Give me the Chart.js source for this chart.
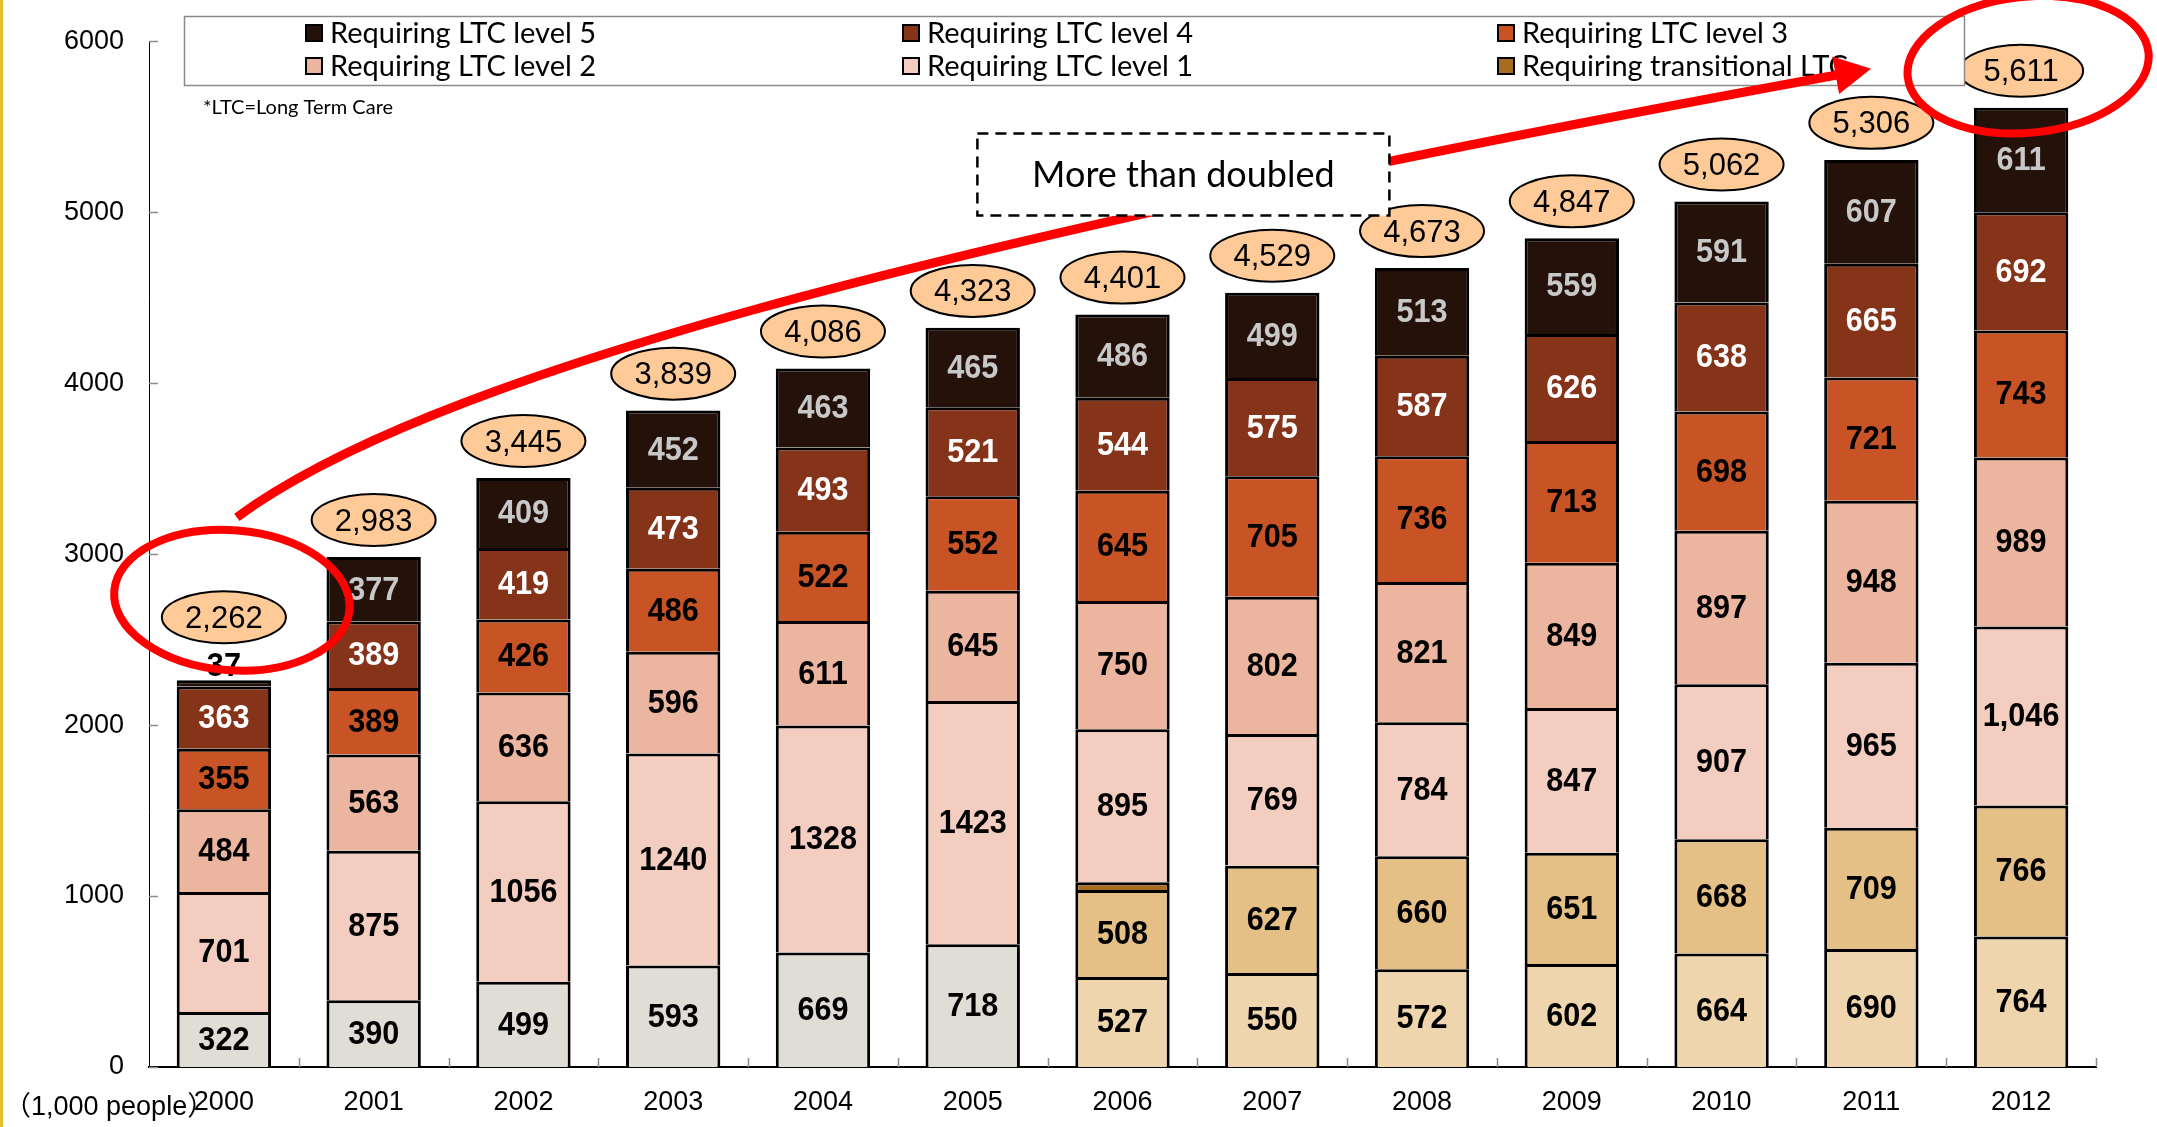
<!DOCTYPE html>
<html>
<head>
<meta charset="utf-8">
<title>Persons requiring long-term care</title>
<script src="https://cdn.jsdelivr.net/npm/chart.js@4.4.1/dist/chart.umd.min.js"></script>
<style>
  html, body { margin: 0; padding: 0; background: #fff; }
  #wrap { width: 2157px; height: 1127px; position: relative; }
</style>
</head>
<body>
<div id="wrap"><canvas id="ltcChart" width="2157" height="1127"></canvas></div>
<script>
// years on the x axis
const years = ["2000", "2001", "2002", "2003", "2004", "2005", "2006",
  "2007", "2008", "2009", "2010", "2011", "2012"];

// persons by care level (1,000 people), bottom of the stack first
const support = [322, 390, 499, 593, 669, 718, null, null, null, null, null, null, null];
const support1 = [null, null, null, null, null, null, 527, 550, 572, 602, 664, 690, 764];
const support2 = [null, null, null, null, null, null, 508, 627, 660, 651, 668, 709, 766];
const transitional = [null, null, null, null, null, null, 46, 2, null, null, null, null, null];
const level1 = [701, 875, 1056, 1240, 1328, 1423, 895, 769, 784, 847, 907, 965, 1046];
const level2 = [484, 563, 636, 596, 611, 645, 750, 802, 821, 849, 897, 948, 989];
const level3 = [355, 389, 426, 486, 522, 552, 645, 705, 736, 713, 698, 721, 743];
const level4 = [363, 389, 419, 473, 493, 521, 544, 575, 587, 626, 638, 665, 692];
const level5 = [37, 377, 409, 452, 463, 465, 486, 499, 513, 559, 591, 607, 611];

// totals written in the bubbles above each bar
const totals = [2262, 2983, 3445, 3839, 4086, 4323, 4401, 4529, 4673, 4847, 5062, 5306, 5611];

const yMax = 6000;
const yStep = 1000;

const FONT = '"Liberation Sans", Arial, sans-serif';
const NOTE_FONT = 'Lato, "Open Sans", sans-serif';

document.addEventListener("DOMContentLoaded", function () {
  const ctx = document.getElementById("ltcChart").getContext("2d");

  // one stacked series; textColor null means its segments get no numbers
  function ds(label, data, color, textColor) {
    return {
      label: label,
      data: data,
      backgroundColor: color,
      borderColor: "#000",
      borderWidth: 3,
      borderSkipped: "start",
      textColor: textColor,
    };
  }

  const datasets = [
    ds("Requiring support", support, "#e0ddd6", "#000"),
    ds("Requiring support 1", support1, "#efd5ad", "#000"),
    ds("Requiring support 2", support2, "#e5c086", "#000"),
    ds("Requiring transitional LTC", transitional, "#a66d22", null),
    ds("Requiring LTC level 1", level1, "#f3cdc0", "#000"),
    ds("Requiring LTC level 2", level2, "#ecb59f", "#000"),
    ds("Requiring LTC level 3", level3, "#c85426", "#000"),
    ds("Requiring LTC level 4", level4, "#85341a", "#fff"),
    ds("Requiring LTC level 5", level5, "#24120a", "#c8c8c8"),
  ];

  // legend: three columns, two rows
  const legendOrder = [
    ["Requiring LTC level 5", "Requiring LTC level 4", "Requiring LTC level 3"],
    ["Requiring LTC level 2", "Requiring LTC level 1", "Requiring transitional LTC"],
  ];

  function fmt(v, i) {
    // the last year is printed with thousands separators
    return years[i] === "2012" ? v.toLocaleString("en-US") : String(v);
  }

  // bubble centre above a bar; pushed up when a tiny top segment is labelled above the bar
  function bubbleCenter(chart, i) {
    const xs = chart.scales.x, ys = chart.scales.y;
    const top = ys.getPixelForValue(totals[i]);
    const lifted = chart._smallTop && chart._smallTop[i];
    return { x: xs.getPixelForValue(i), y: top - (lifted ? 63 : 37) };
  }

  const decorations = {
    id: "decorations",

    // inward tick marks on both axes
    beforeDatasetsDraw(chart) {
      const c = chart.ctx, area = chart.chartArea;
      const xs = chart.scales.x, ys = chart.scales.y;
      c.save();
      c.strokeStyle = "#8c8c8c";
      c.lineWidth = 1.5;
      c.beginPath();
      for (let v = 0; v <= yMax; v += yStep) {
        const py = Math.round(ys.getPixelForValue(v)) + 0.5;
        c.moveTo(area.left, py);
        c.lineTo(area.left + 9, py);
      }
      const half = (xs.getPixelForValue(1) - xs.getPixelForValue(0)) / 2;
      for (let i = 0; i < years.length; i++) {
        const px = Math.round(xs.getPixelForValue(i) + half) + 0.5;
        c.moveTo(px, area.bottom);
        c.lineTo(px, area.bottom - 9);
      }
      c.stroke();
      c.restore();
    },

    // values inside the segments and the total bubbles
    afterDatasetsDraw(chart) {
      const c = chart.ctx;
      chart._smallTop = {};
      c.save();
      c.textAlign = "center";
      c.textBaseline = "middle";
      chart.data.datasets.forEach(function (set, di) {
        if (!set.textColor) return;
        const meta = chart.getDatasetMeta(di);
        meta.data.forEach(function (bar, i) {
          const v = set.data[i];
          if (v == null) return;
          const p = bar.getProps(["x", "y", "base"], true);
          const h = Math.abs(p.base - p.y);
          let cy = (p.y + p.base) / 2 + 1;
          let color = set.textColor;
          if (h < 20) {
            // too thin to hold its number: print it just above the bar
            cy = p.y - 14;
            color = "#000";
            chart._smallTop[i] = true;
          }
          c.save();
          c.translate(p.x, cy);
          c.scale(0.9, 1);
          c.font = "bold 34px " + FONT;
          c.fillStyle = color;
          c.fillText(fmt(v, i), 0, 0);
          c.restore();
        });
      });

      totals.forEach(function (t, i) {
        const b = bubbleCenter(chart, i);
        c.beginPath();
        c.ellipse(b.x, b.y, 62, 26, 0, 0, Math.PI * 2);
        c.fillStyle = "#fdca98";
        c.fill();
        c.lineWidth = 2;
        c.strokeStyle = "#000";
        c.stroke();
        c.fillStyle = "#000";
        c.font = "31px " + FONT;
        c.fillText(t.toLocaleString("en-US"), b.x, b.y + 2);
      });
      c.restore();
    },

    afterDraw(chart) {
      const c = chart.ctx;
      const ys = chart.scales.y, xs = chart.scales.x;
      c.save();

      // thin gold rule at the left edge of the slide
      c.fillStyle = "#e2bd2c";
      c.fillRect(0, 0, 3, chart.height);

      // legend box
      c.fillStyle = "#fff";
      c.fillRect(184, 16, 1780, 69);
      c.strokeStyle = "#8a8a8a";
      c.lineWidth = 1.5;
      c.strokeRect(184.5, 16.5, 1780, 69);
      const colX = [305, 902, 1497];
      const rowY = [33, 66];
      c.textBaseline = "middle";
      c.textAlign = "left";
      c.font = "29px " + NOTE_FONT;
      legendOrder.forEach(function (row, r) {
        row.forEach(function (name, k) {
          const set = chart.data.datasets.find(function (d) { return d.label === name; });
          c.fillStyle = set.backgroundColor;
          c.fillRect(colX[k], rowY[r] - 9, 18, 18);
          c.lineWidth = 2;
          c.strokeStyle = "#000";
          c.strokeRect(colX[k] + 1, rowY[r] - 8, 16, 16);
          c.fillStyle = "#000";
          c.fillText(name, colX[k] + 25, rowY[r] + 1);
        });
      });

      c.font = "20px " + NOTE_FONT;
      c.fillText("*LTC=Long Term Care", 203, 108);

      c.font = '27px "Liberation Sans", "Noto Sans CJK JP", sans-serif';
      c.fillText("\uFF081,000 people\uFF09", 4, 1108);

      // red arrow sweeping from the first total to the last
      const first = bubbleCenter(chart, 0);
      const last = bubbleCenter(chart, years.length - 1);
      const p0 = { x: first.x + 13, y: first.y - 100 };
      const p3 = { x: last.x - 150, y: last.y - 2 };
      const dx = p3.x - p0.x, dy = p3.y - p0.y;
      const p1 = { x: p0.x + dx * 0.112, y: p0.y + dy * 0.30 };
      const p2 = { x: p0.x + dx * 0.40, y: p0.y + dy * 0.60 };
      const ang = Math.atan2(p3.y - p2.y, p3.x - p2.x);
      const headLen = 36, headHalf = 19;
      const shaftEnd = { x: p3.x - Math.cos(ang) * (headLen - 4), y: p3.y - Math.sin(ang) * (headLen - 4) };
      c.strokeStyle = "#ff0000";
      c.fillStyle = "#ff0000";
      c.lineWidth = 9;
      c.lineCap = "butt";
      c.beginPath();
      c.moveTo(p0.x, p0.y);
      c.bezierCurveTo(p1.x, p1.y, p2.x, p2.y, shaftEnd.x, shaftEnd.y);
      c.stroke();
      c.beginPath();
      c.moveTo(p3.x, p3.y);
      c.lineTo(p3.x - Math.cos(ang) * headLen - Math.sin(ang) * headHalf,
               p3.y - Math.sin(ang) * headLen + Math.cos(ang) * headHalf);
      c.lineTo(p3.x - Math.cos(ang) * headLen + Math.sin(ang) * headHalf,
               p3.y - Math.sin(ang) * headLen - Math.cos(ang) * headHalf);
      c.closePath();
      c.fill();

      // dashed call-out box
      const bx = (xs.getPixelForValue(6) + xs.getPixelForValue(7)) / 2 - 14;
      const by = ys.getPixelForValue(5220);
      const bw = 412, bh = 82;
      c.fillStyle = "#fff";
      c.fillRect(bx - bw / 2, by - bh / 2, bw, bh);
      c.setLineDash([11, 7]);
      c.lineWidth = 2.5;
      c.strokeStyle = "#000";
      c.strokeRect(bx - bw / 2, by - bh / 2, bw, bh);
      c.setLineDash([]);
      c.fillStyle = "#000";
      c.textAlign = "center";
      c.font = "36px " + NOTE_FONT;
      c.fillText("More than doubled", bx, by + 1);

      // red rings round the first and last totals
      c.strokeStyle = "#ff0000";
      c.lineWidth = 8;
      c.beginPath();
      c.ellipse(first.x + 8, first.y - 17, 118, 70, 0.08, 0, Math.PI * 2);
      c.stroke();
      c.beginPath();
      c.ellipse(last.x + 7, last.y - 6, 121, 68, -0.1, 0, Math.PI * 2);
      c.stroke();

      c.restore();
    },
  };

  new Chart(ctx, {
    type: "bar",
    data: { labels: years, datasets: datasets },
    plugins: [decorations],
    options: {
      responsive: false,
      animation: false,
      devicePixelRatio: 1,
      layout: { padding: { top: 38, right: 61, left: 0, bottom: 0 } },
      datasets: {
        bar: { categoryPercentage: 1, barPercentage: 0.63 },
      },
      plugins: {
        legend: { display: false },
        tooltip: { enabled: false },
      },
      scales: {
        x: {
          stacked: true,
          grid: { display: false, drawTicks: false },
          border: { display: true, color: "#000", width: 2 },
          ticks: { color: "#000", padding: 19, font: { family: FONT, size: 27 } },
          afterFit: function (scale) { scale.height = 60; },
        },
        y: {
          stacked: true,
          min: 0,
          max: yMax,
          grid: { display: false, drawTicks: false },
          border: { display: true, color: "#000", width: 1 },
          ticks: {
            stepSize: yStep,
            color: "#000",
            padding: 25,
            font: { family: FONT, size: 27 },
            callback: function (value) { return String(value); },
          },
          afterFit: function (scale) { scale.width = 149; },
        },
      },
    },
  });
});
</script>
</body>
</html>
